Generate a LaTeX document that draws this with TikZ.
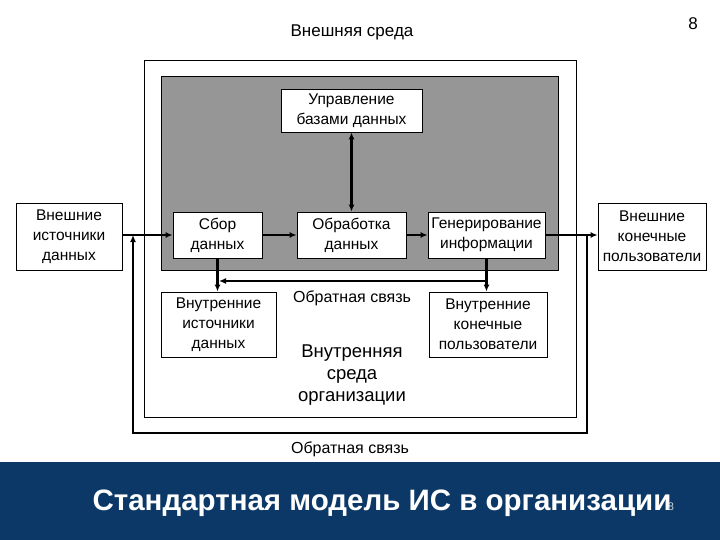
\documentclass[tikz,border=0pt]{standalone}
\usepackage{fontspec}
\setmainfont{Liberation Sans}
\usetikzlibrary{arrows.meta}
\definecolor{slidebar}{RGB}{12,56,104}
\definecolor{innergrey}{RGB}{150,150,150}
\begin{document}
\begin{tikzpicture}[x=1pt,y=-1pt,
  box/.style={draw, fill=white, line width=0.8pt, align=center, inner sep=0pt, font=\fontsize{15.5}{20}\selectfont},
  arrow/.style={-{Latex[length=7pt,width=6pt]}, line width=2.2pt},
  twoway/.style={{Latex[length=7pt,width=6pt]}-{Latex[length=7pt,width=6pt]}, line width=2.2pt}
]
\useasboundingbox (0,0) rectangle (720,540);
\fill[white] (0,0) rectangle (720,540);
\fill[slidebar] (0,462) rectangle (720,540);

% frames
\draw[line width=1pt] (144,61) rectangle (576,417);
\draw[fill=innergrey, line width=1pt] (161,77) rectangle (558,270);

\node[font=\fontsize{17}{20}\selectfont] (outer) at (352,32) {Внешняя среда};
\node[font=\fontsize{17}{20}\selectfont] (pagenum) at (693,24) {8};

\node[box, minimum width=141pt, minimum height=43pt] (dbm) at (351.5,110.5) {Управление\\базами данных};
\node[box, minimum width=89pt, minimum height=46pt] (collect) at (217.5,235) {Сбор\\данных};
\node[box, minimum width=109pt, minimum height=46pt] (process) at (351.5,235) {Обработка\\данных};
\node[box, minimum width=117pt, minimum height=46pt] (generate) at (486.5,235) {Генерирование\\информации};
\node[box, minimum width=106pt, minimum height=67pt] (extsrc) at (69,236.5) {Внешние\\источники\\данных};
\node[box, minimum width=108pt, minimum height=67pt] (extusr) at (652,236.5) {Внешние\\конечные\\пользователи};
\node[box, minimum width=115pt, minimum height=65pt] (intsrc) at (218.5,324.5) {Внутренние\\источники\\данных};
\node[box, minimum width=118pt, minimum height=65pt] (intusr) at (488,324.5) {Внутренние\\конечные\\пользователи};

\node[font=\fontsize{16}{19}\selectfont] (fbinner) at (352,298) {Обратная связь};
\node[align=center, font=\fontsize{18.5}{22}\selectfont] (inner) at (352,375) {Внутренняя\\среда\\организации};
\node[font=\fontsize{16}{19}\selectfont] (fbouter) at (350,449) {Обратная связь};

\draw[twoway] (dbm) -- (process);
\draw[arrow] (extsrc.east |- collect) -- (collect);
\draw[arrow] (collect) -- (process);
\draw[arrow] (process) -- (generate);
\draw[arrow] (generate) -- (extusr.west |- generate);

\draw[arrow] (collect.south) -- (intsrc.north -| collect.south);
\draw[arrow] (generate.south) -- (intusr.north -| generate.south);
\coordinate (fbstart) at (487,281);
\coordinate (fbend) at (219,281);
\draw[arrow] (fbstart) -- (fbend);

% outer feedback loop
\coordinate (jr) at (587,235);
\coordinate (jl) at (133,235);
\draw[arrow] (jr) -- ++(0,198) -| (jl);

\node[text=white, font=\fontsize{29.5}{34}\selectfont\bfseries] (title) at (382,503) {Стандартная модель ИС в организации};
\node[text=white!80!slidebar, font=\fontsize{11}{13}\selectfont] (titlenum) at (671,507) {8};
\end{tikzpicture}
\end{document}
